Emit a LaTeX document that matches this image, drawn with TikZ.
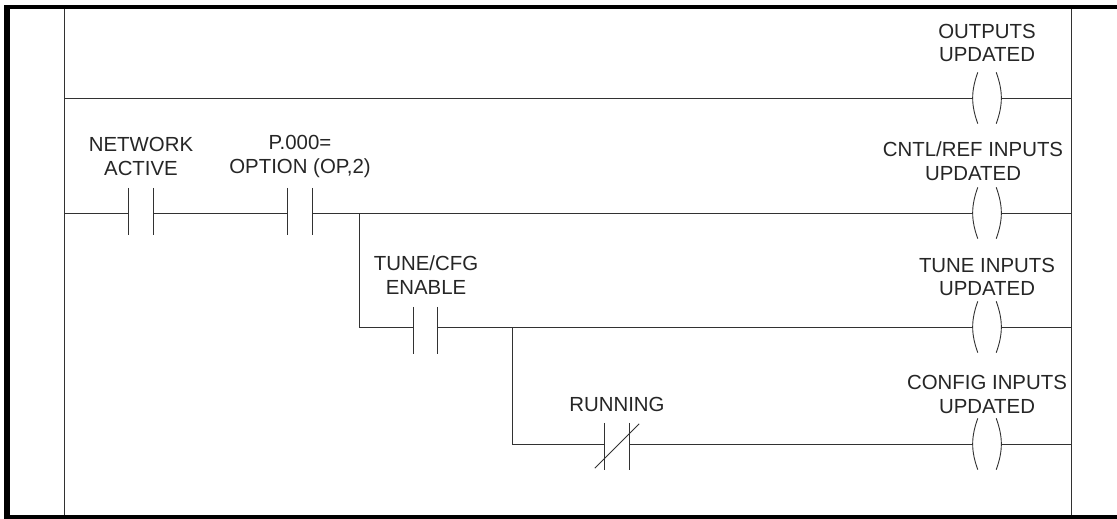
\documentclass[tikz,border=0pt]{standalone}
\usepackage{fontspec}
\setmainfont{Liberation Sans}
\usetikzlibrary{positioning, calc}
\definecolor{wire}{RGB}{50, 50, 50}

\begin{document}
\begin{tikzpicture}[x=1pt, y=-1pt,
  lbl/.style={align=center, inner sep=0pt, text=black!85, font=\fontsize{20.4}{23.7}\selectfont},
  ct/.style={minimum width=24pt, minimum height=47pt, inner sep=0pt},
  cl/.style={minimum width=28pt, minimum height=51pt, inner sep=0pt},
  wr/.style={draw=wire, line width=0.9pt},
  bar/.style={fill=black, draw=none},
]
  \useasboundingbox (0,0) rectangle (1117,519);
  \fill[white] (0,0) rectangle (1117,519);
  % Rails
  \coordinate (top1) at (64.5,7);
  \coordinate (bot1) at (64.5,516);
  \coordinate (top2) at (1071,7);
  \coordinate (bot2) at (1071,516);
  \coordinate (l1) at (64.5,98);
  \coordinate (r1) at (1071,98);
  \coordinate (l2) at (64.5,213);
  \coordinate (r2) at (1071,213);
  \coordinate (r3) at (1071,327);
  \coordinate (r4) at (1071,444);
  % Contacts
  \node[ct] (net) at (141,211.5) {};
  \node[ct] (opt) at (300,211.5) {};
  \node[ct] (cfg) at (425.5,330.5) {};
  \node[ct] (run) at (617,446.5) {};
  % Coils
  \node[cl] (k1) at (987,98) {};
  \node[cl] (k2) at (987,213) {};
  \node[cl] (k3) at (987,327) {};
  \node[cl] (k4) at (987,444) {};
  % Branch points
  \coordinate (b1) at (359,213);
  \coordinate (b2) at (512,327);
  % Labels
  \node[lbl] (t1) at (987,43) {OUTPUTS\\UPDATED};
  \node[lbl] (t2) at (973,161.5) {CNTL/REF INPUTS\\UPDATED};
  \node[lbl] (t3) at (987,277) {TUNE INPUTS\\UPDATED};
  \node[lbl] (t4) at (987,394.5) {CONFIG INPUTS\\UPDATED};
  \node[lbl] (t5) at (141,156.5) {NETWORK\\ACTIVE};
  \node[lbl] (t6) at (300,156.5) {P.000=\\OPTION (OP,2)};
  \node[lbl] (t7) at (426,275) {TUNE/CFG\\ENABLE};
  \node[lbl] (t8) at (617,404) {RUNNING};
  % Wires
  \draw[wr] (top1) -- (bot1);
  \draw[wr] (top2) -- (bot2);
  \draw[wr] (l1) -- (k1.west);
  \draw[wr] (k1.east) -- (r1);
  \draw[wr] (l2) -- (net.west|-l2);
  \draw[wr] (net.east|-l2) -- (opt.west|-l2);
  \draw[wr] (opt.east|-l2) -- (k2.west);
  \draw[wr] (k2.east) -- (r2);
  \draw[wr] (b1) |- (cfg.west|-r3);
  \draw[wr] (cfg.east|-r3) -- (k3.west);
  \draw[wr] (k3.east) -- (r3);
  \draw[wr] (b2) |- (run.west|-r4);
  \draw[wr] (run.east|-r4) -- (k4.west);
  \draw[wr] (k4.east) -- (r4);
  % Contact plates
  \draw[wr] (net.north west) -- (net.south west);
  \draw[wr] (net.north east) -- (net.south east);
  \draw[wr] (opt.north west) -- (opt.south west);
  \draw[wr] (opt.north east) -- (opt.south east);
  \draw[wr] (cfg.north west) -- (cfg.south west);
  \draw[wr] (cfg.north east) -- (cfg.south east);
  \draw[wr] (run.north west) -- (run.south west);
  \draw[wr] (run.north east) -- (run.south east);
  \draw[wr] ($(run.south west)+(-10,-2)$) -- ($(run.north east)+(10,1)$);
  % Coil arcs
  \draw[wr] ([xshift=5pt]k1.north west) to[bend right=20] ([xshift=5pt]k1.south west);
  \draw[wr] ([xshift=-5pt]k1.north east) to[bend left=20] ([xshift=-5pt]k1.south east);
  \draw[wr] ([xshift=5pt]k2.north west) to[bend right=20] ([xshift=5pt]k2.south west);
  \draw[wr] ([xshift=-5pt]k2.north east) to[bend left=20] ([xshift=-5pt]k2.south east);
  \draw[wr] ([xshift=5pt]k3.north west) to[bend right=20] ([xshift=5pt]k3.south west);
  \draw[wr] ([xshift=-5pt]k3.north east) to[bend left=20] ([xshift=-5pt]k3.south east);
  \draw[wr] ([xshift=5pt]k4.north west) to[bend right=20] ([xshift=5pt]k4.south west);
  \draw[wr] ([xshift=-5pt]k4.north east) to[bend left=20] ([xshift=-5pt]k4.south east);
  % Border
  \fill[bar] (4,4.7) rectangle (1117,9.3);
  \fill[bar] (4,4.7) rectangle (10,519);
  \fill[bar] (4,514.8) rectangle (1117,519);
\end{tikzpicture}
\end{document}
